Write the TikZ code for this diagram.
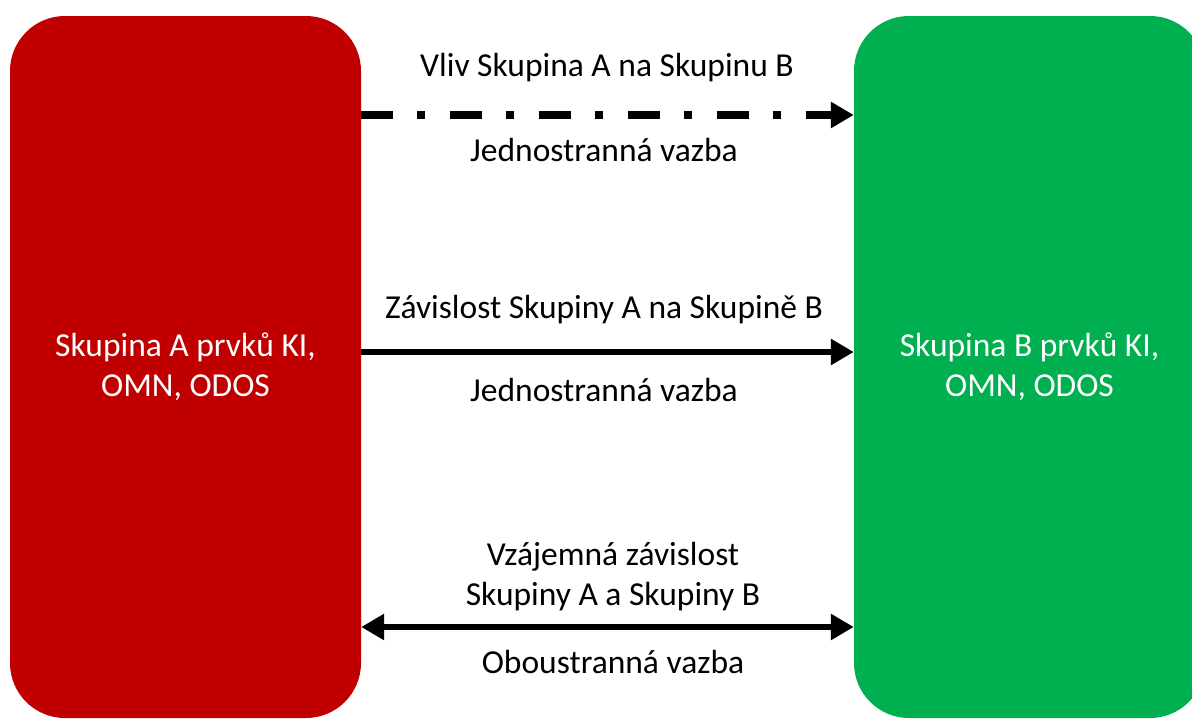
\documentclass[tikz,border=0pt]{standalone}
\usepackage{fontspec}
\setmainfont{Carlito}
\usetikzlibrary{arrows.meta}
\definecolor{boxred}{HTML}{C00000}
\definecolor{boxgreen}{HTML}{00B050}
\begin{document}
\begin{tikzpicture}[x=1pt,y=-1pt,
  grp/.style={rounded corners=55pt, minimum width=351pt, minimum height=702pt, inner sep=0pt, text=white, align=center, font=\fontsize{33.5}{40}\selectfont},
  lbl/.style={font=\fontsize{33.5}{40}\selectfont, align=center, inner sep=0pt},
  conn/.style={line width=6.5pt, -{Triangle[length=23pt,width=25pt]}}]
\useasboundingbox (0,0) rectangle (1192,718);
\clip (0,0) rectangle (1192,718);
\node[grp, fill=boxred] (a) at (185.5,367) {Skupina A prvků KI,\\OMN, ODOS};
\node[grp, fill=boxgreen] (b) at (1029.5,367) {Skupina B prvků KI,\\OMN, ODOS};
\draw[conn, line width=7.5pt, dash pattern=on 32pt off 24pt on 8pt off 25pt] (a.east |- 0,115) -- (b.west |- 0,115);
\draw[conn] (a.east |- 0,352) -- (b.west |- 0,352);
\draw[conn, {Triangle[length=23pt,width=25pt]}-{Triangle[length=23pt,width=25pt]}] (a.east |- 0,627) -- (b.west |- 0,627);
\node[lbl] (t1) at (607,68) {Vliv Skupina A na Skupinu B};
\node[lbl] (t2) at (604,150) {Jednostranná vazba};
\node[lbl] (t3) at (604,310) {Závislost Skupiny A na Skupině B};
\node[lbl] (t4) at (604,390) {Jednostranná vazba};
\node[lbl] (t5) at (613,577) {Vzájemná závislost\\Skupiny A a Skupiny B};
\node[lbl] (t6) at (613,662) {Oboustranná vazba};
\end{tikzpicture}
\end{document}
